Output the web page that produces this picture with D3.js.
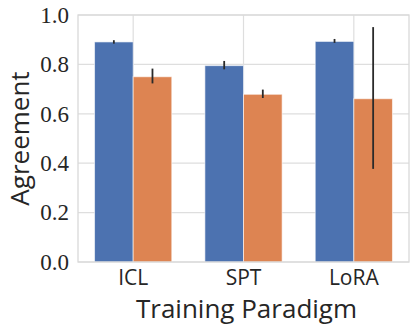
<!DOCTYPE html>
<html lang="en">
<head>
  <meta charset='utf-8'>
  <script src='https://cdn.jsdelivr.net/npm/d3@7/dist/d3.min.js'></script>
  <style>
    body { margin: 0; background: #fff; }
    .ytick text { font-family: 'Liberation Serif', serif; font-size: 23px; fill: #262626; }
    .xtick text { font-family: 'Open Sans', sans-serif; font-size: 21px; fill: #262626; }
    .label { font-family: 'Open Sans', sans-serif; font-size: 26px; fill: #262626; }
  </style>
</head>
<body>
  <div id='chart'></div>
  <script>
    // Data.
    var categories = ['ICL', 'SPT', 'LoRA'];
    var series = ['A', 'B'];
    var seriesColors = ['#4c72b0', '#dd8452'];
    var meanA = [0.891, 0.795, 0.893];
    var lowA = [0.884, 0.780, 0.887];
    var highA = [0.898, 0.814, 0.903];
    var meanB = [0.750, 0.679, 0.661];
    var lowB = [0.723, 0.664, 0.377];
    var highB = [0.783, 0.698, 0.951];
    var yTicks = [0.0, 0.2, 0.4, 0.6, 0.8, 1.0];

    var width = 416, height = 332;
    var margin = { top: 15, right: 7, bottom: 70, left: 78 };
    var w = width - margin.left - margin.right,
      h = height - margin.top - margin.bottom;

    var svg = d3.select('#chart').append('svg')
      .attr('width', width)
      .attr('height', height);

    var g = svg.append('g')
      .attr('transform', 'translate(' + margin.left + ',' + margin.top + ')');

    var x = d3.scaleBand().domain(categories).range([0, w]).padding(0);
    var xInner = d3.scaleBand().domain(series).range([x.bandwidth() * 0.15, x.bandwidth() * 0.85]);
    var y = d3.scaleLinear().domain([0, 1]).range([h, 0]);

    // Grid lines.
    g.selectAll('.hgrid').data(yTicks).enter().append('line')
      .attr('x1', 0).attr('x2', w)
      .attr('y1', function(d) { return y(d); })
      .attr('y2', function(d) { return y(d); })
      .attr('stroke', '#dedede').attr('stroke-width', 1.2);

    g.selectAll('.vgrid').data(categories).enter().append('line')
      .attr('y1', 0).attr('y2', h)
      .attr('x1', function(d) { return x(d) + x.bandwidth() / 2; })
      .attr('x2', function(d) { return x(d) + x.bandwidth() / 2; })
      .attr('stroke', '#dedede').attr('stroke-width', 1.2);

    // Bars.
    var rows = [];
    categories.forEach(function(c, i) {
      rows.push({ cat: c, s: 'A', v: meanA[i], lo: lowA[i], hi: highA[i], color: seriesColors[0] });
      rows.push({ cat: c, s: 'B', v: meanB[i], lo: lowB[i], hi: highB[i], color: seriesColors[1] });
    });

    g.selectAll('rect.bar').data(rows).enter().append('rect')
      .attr('class', 'bar')
      .attr('x', function(d) { return x(d.cat) + xInner(d.s); })
      .attr('width', xInner.bandwidth())
      .attr('y', function(d) { return y(d.v); })
      .attr('height', function(d) { return h - y(d.v); })
      .attr('fill', function(d) { return d.color; })
      .attr('stroke', '#ffffff').attr('stroke-opacity', 0.6).attr('stroke-width', 1);

    // Error bars.
    g.selectAll('line.err').data(rows).enter().append('line')
      .attr('x1', function(d) { return x(d.cat) + xInner(d.s) + xInner.bandwidth() / 2; })
      .attr('x2', function(d) { return x(d.cat) + xInner(d.s) + xInner.bandwidth() / 2; })
      .attr('y1', function(d) { return y(d.lo); })
      .attr('y2', function(d) { return y(d.hi); })
      .attr('stroke', '#2a2a2a').attr('stroke-width', 1.8);

    // Frame.
    g.append('rect')
      .attr('width', w).attr('height', h)
      .attr('fill', 'none').attr('stroke', '#d9d9d9').attr('stroke-width', 1.3);

    // Axes.
    var yAxis = g.append('g').attr('class', 'ytick')
      .call(d3.axisLeft(y).tickValues(yTicks).tickFormat(d3.format('.1f')).tickSize(0).tickPadding(9));
    yAxis.select('.domain').remove();

    var xAxis = g.append('g').attr('class', 'xtick')
      .attr('transform', 'translate(0,' + h + ')')
      .call(d3.axisBottom(x).tickSize(0).tickPadding(8));
    xAxis.select('.domain').remove();

    svg.append('text').attr('class', 'label')
      .attr('x', margin.left + w / 2 + 3).attr('y', 318)
      .attr('text-anchor', 'middle')
      .text('Training Paradigm');

    svg.append('text').attr('class', 'label')
      .attr('transform', 'translate(29,' + (margin.top + h / 2) + ') rotate(-90)')
      .attr('text-anchor', 'middle')
      .text('Agreement');
  </script>
</body>
</html>
